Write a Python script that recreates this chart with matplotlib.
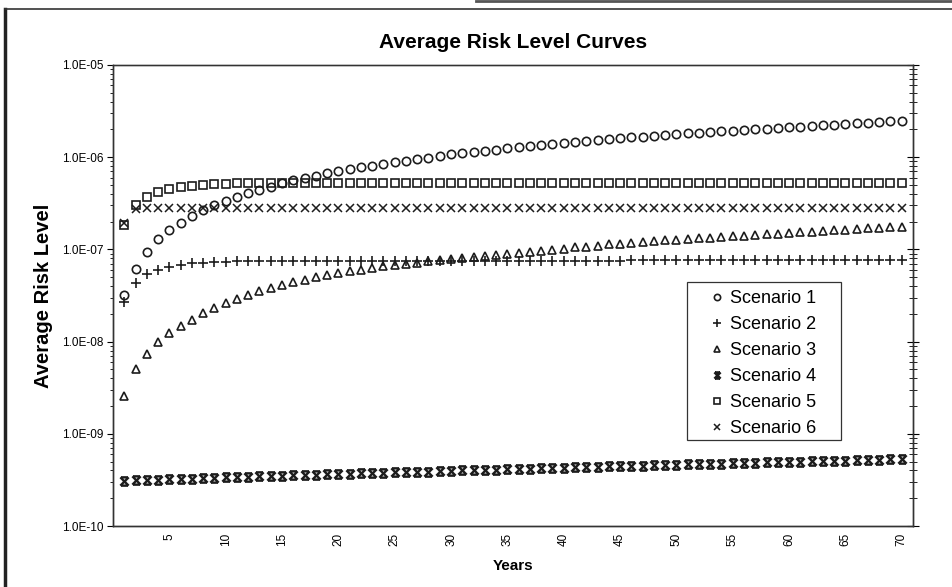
import numpy as np
import matplotlib
matplotlib.use("Agg")
import matplotlib.pyplot as plt
from matplotlib.path import Path
from matplotlib.lines import Line2D
from matplotlib.patches import Rectangle
from matplotlib.ticker import LogLocator, FixedLocator, FuncFormatter, NullFormatter

plt.rcParams['font.family'] = ['Liberation Sans', 'DejaVu Sans']

years = np.arange(1, 71)
x_ticks = [5, 10, 15, 20, 25, 30, 35, 40, 45, 50, 55, 60, 65, 70]
labels = ["Scenario 1", "Scenario 2", "Scenario 3", "Scenario 4", "Scenario 5", "Scenario 6"]

# values (units noted in names)
scenario1_e7 = [0.32, 0.62, 0.93, 1.30, 1.62, 1.93, 2.30, 2.66, 3.02, 3.37,
                3.73, 4.10, 4.46, 4.80, 5.20, 5.62, 6.00, 6.32, 6.68, 7.05,
                7.42, 7.76, 8.10, 8.42, 8.80, 9.15, 9.50, 9.90, 10.3, 10.7,
                11.0, 11.4, 11.8, 12.1, 12.5, 12.8, 13.2, 13.6, 13.9, 14.3,
                14.7, 15.0, 15.4, 15.7, 16.0, 16.4, 16.7, 17.1, 17.4, 17.8,
                18.2, 18.5, 18.8, 19.1, 19.4, 19.7, 20.0, 20.4, 20.7, 21.0,
                21.4, 21.7, 22.1, 22.4, 22.8, 23.2, 23.6, 24.0, 24.4, 24.8]
scenario2_e8 = [2.70, 4.35, 5.35, 6.05, 6.50, 6.85, 7.05, 7.20, 7.30, 7.35,
                7.40, 7.42, 7.45, 7.47, 7.50, 7.50, 7.50, 7.50, 7.50, 7.50,
                7.50, 7.50, 7.50, 7.50, 7.50, 7.55, 7.55, 7.55, 7.55, 7.55,
                7.55, 7.55, 7.55, 7.55, 7.55, 7.55, 7.55, 7.55, 7.55, 7.55,
                7.55, 7.55, 7.55, 7.55, 7.55, 7.60, 7.60, 7.60, 7.60, 7.60,
                7.60, 7.60, 7.60, 7.60, 7.60, 7.60, 7.60, 7.60, 7.60, 7.60,
                7.60, 7.60, 7.60, 7.60, 7.60, 7.60, 7.60, 7.60, 7.60, 7.60]
scenario3_e8 = [0.26, 0.51, 0.74, 1.00, 1.25, 1.48, 1.72, 2.02, 2.32, 2.60,
                2.92, 3.22, 3.52, 3.83, 4.13, 4.42, 4.70, 4.98, 5.25, 5.50,
                5.80, 6.05, 6.30, 6.55, 6.78, 7.00, 7.20, 7.40, 7.60, 7.80,
                8.00, 8.20, 8.45, 8.70, 8.95, 9.20, 9.45, 9.70, 9.95, 10.2,
                10.5, 10.7, 11.0, 11.3, 11.5, 11.8, 12.1, 12.3, 12.6, 12.8,
                13.0, 13.2, 13.4, 13.7, 13.9, 14.1, 14.4, 14.6, 14.8, 15.1,
                15.3, 15.6, 15.8, 16.1, 16.4, 16.6, 16.9, 17.2, 17.4, 17.7]
scenario4_e10 = [3.10, 3.13, 3.15, 3.18, 3.21, 3.24, 3.27, 3.30, 3.33, 3.36,
                 3.39, 3.42, 3.45, 3.48, 3.51, 3.54, 3.57, 3.60, 3.63, 3.66,
                 3.69, 3.72, 3.75, 3.78, 3.81, 3.84, 3.87, 3.90, 3.94, 3.97,
                 4.00, 4.03, 4.06, 4.10, 4.13, 4.16, 4.19, 4.22, 4.26, 4.29,
                 4.32, 4.35, 4.39, 4.42, 4.45, 4.48, 4.52, 4.55, 4.58, 4.62,
                 4.65, 4.68, 4.72, 4.75, 4.79, 4.82, 4.85, 4.89, 4.92, 4.96,
                 4.99, 5.03, 5.06, 5.10, 5.13, 5.17, 5.20, 5.24, 5.27, 5.31]
scenario5_e7 = [1.84, 3.00, 3.73, 4.20, 4.50, 4.70, 4.85, 5.00, 5.10, 5.15,
                5.20, 5.20, 5.20, 5.20, 5.20, 5.20, 5.20, 5.20, 5.20, 5.20,
                5.20, 5.20, 5.20, 5.20, 5.20, 5.20, 5.20, 5.20, 5.20, 5.20,
                5.20, 5.20, 5.20, 5.20, 5.20, 5.20, 5.20, 5.20, 5.20, 5.20,
                5.20, 5.20, 5.20, 5.20, 5.20, 5.20, 5.20, 5.20, 5.20, 5.20,
                5.20, 5.20, 5.20, 5.20, 5.20, 5.20, 5.20, 5.20, 5.20, 5.20,
                5.20, 5.20, 5.20, 5.20, 5.20, 5.20, 5.20, 5.20, 5.20, 5.20]
scenario6_e7 = [1.95, 2.75, 2.80, 2.80, 2.80, 2.80, 2.80, 2.80, 2.80, 2.80,
                2.80, 2.80, 2.80, 2.80, 2.80, 2.80, 2.80, 2.80, 2.80, 2.80,
                2.80, 2.80, 2.80, 2.80, 2.80, 2.80, 2.80, 2.80, 2.80, 2.80,
                2.80, 2.80, 2.80, 2.80, 2.80, 2.80, 2.80, 2.80, 2.80, 2.80,
                2.80, 2.80, 2.80, 2.80, 2.80, 2.80, 2.80, 2.80, 2.80, 2.80,
                2.80, 2.80, 2.80, 2.80, 2.80, 2.80, 2.80, 2.80, 2.80, 2.80,
                2.80, 2.80, 2.80, 2.80, 2.80, 2.80, 2.80, 2.80, 2.80, 2.80]

series = [np.array(scenario1_e7) * 1e-7,
          np.array(scenario2_e8) * 1e-8,
          np.array(scenario3_e8) * 1e-8,
          np.array(scenario4_e10) * 1e-10,
          np.array(scenario5_e7) * 1e-7,
          np.array(scenario6_e7) * 1e-7]

# x with bars on top and bottom (excel "star"-ish marker)
bowtie = Path([(-1, -1), (1, 1), (-1, 1), (1, -1), (-0.8, 1), (0.8, 1), (-0.8, -1), (0.8, -1)],
              [Path.MOVETO, Path.LINETO] * 4)
markers = ['o', '+', '^', bowtie, 's', 'x']
sizes = [6, 7, 6, 6, 6, 6]
widths = [1.2, 1.2, 1.2, 1.7, 1.2, 1.1]

ink = '#1c1c1c'

fig = plt.figure(figsize=(9.53, 5.87), dpi=100)
ax = fig.add_axes([0.1186, 0.1039, 0.8394, 0.7854])

for vals, m, ms, mw, lab in zip(series, markers, sizes, widths, labels):
    ax.plot(years, vals, linestyle='none', marker=m, ms=ms, mfc='none', mec=ink,
            mew=mw, label=lab)

ax.set_yscale('log')
ax.set_ylim(1e-10, 1e-5)
ax.set_xlim(0, 71)

ax.yaxis.set_major_locator(LogLocator(base=10))
ax.yaxis.set_minor_locator(LogLocator(base=10, subs=np.arange(2, 10)))
ax.yaxis.set_major_formatter(FuncFormatter(lambda v, p: f"{v:.1E}"))
ax.yaxis.set_minor_formatter(NullFormatter())
ax.tick_params(axis='y', which='major', labelsize=8.5, length=4, width=0.8, direction='out', pad=3)
ax.tick_params(axis='y', which='minor', length=2, width=0.6, direction='out')

ax.xaxis.set_major_locator(FixedLocator(x_ticks))
ax.set_xticklabels([str(t) for t in x_ticks], rotation=90)
ax.tick_params(axis='x', which='both', length=0, labelsize=8.5, pad=5)

# right side ticks crossing the frame
ax2 = ax.twinx()
ax2.set_yscale('log')
ax2.set_ylim(1e-10, 1e-5)
ax2.yaxis.set_major_locator(LogLocator(base=10))
ax2.yaxis.set_minor_locator(LogLocator(base=10, subs=np.arange(2, 10)))
ax2.yaxis.set_major_formatter(NullFormatter())
ax2.yaxis.set_minor_formatter(NullFormatter())
ax2.tick_params(axis='y', which='major', length=8, width=0.8, direction='inout')
ax2.tick_params(axis='y', which='minor', length=6, width=0.6, direction='inout')

for a in (ax, ax2):
    for s in a.spines.values():
        s.set_linewidth(1.0)
        s.set_color('#333333')
ax.spines['top'].set_color('#666666')

ax.set_title("Average Risk Level Curves", fontsize=15, fontweight='bold', pad=12)
ax.set_xlabel("Years", fontsize=11, fontweight='bold', labelpad=9)
ax.set_ylabel("Average Risk Level", fontsize=14.5, fontweight='bold', labelpad=6)

# legend box drawn by hand, entries placed inside it
ax.add_patch(Rectangle((0.7175, 0.1866), 0.1925, 0.3424, transform=ax.transAxes,
                       facecolor='white', edgecolor='#333333', lw=0.9, zorder=4))
leg = ax.legend(loc='upper left', bbox_to_anchor=(0.748, 0.512), borderaxespad=0,
                fontsize=13, frameon=False, handlelength=0.6, handletextpad=0.45,
                labelspacing=0.5, markerscale=0.75, borderpad=0)
leg.set_zorder(5)

# outer frame of the scanned page
fig.add_artist(Line2D([0.005, 0.005], [0, 0.985], transform=fig.transFigure, color='#222222', lw=2.5))
fig.add_artist(Line2D([0.005, 1.0], [0.985, 0.985], transform=fig.transFigure, color='#333333', lw=1.2))
fig.add_artist(Line2D([0.5, 1.0], [0.998, 0.998], transform=fig.transFigure, color='#555555', lw=2.0))

fig.savefig("out.png", dpi=100)
